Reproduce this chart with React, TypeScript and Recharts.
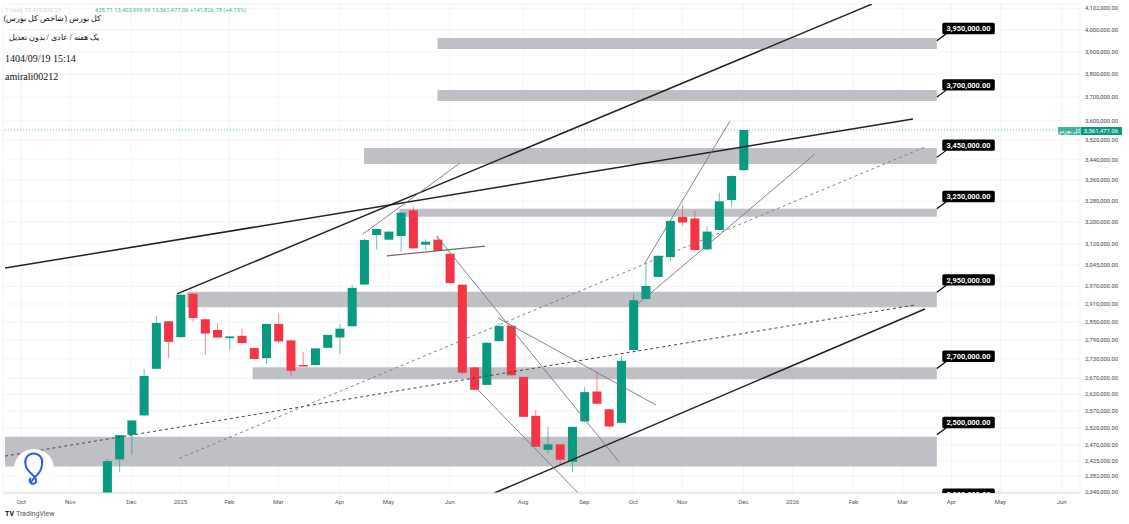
import React from "react";
import {
  ComposedChart,
  Bar,
  XAxis,
  YAxis,
  CartesianGrid,
  ReferenceArea,
  ReferenceLine,
  ReferenceDot,
} from "recharts";

const firstWeek = 8;

const opens = [
  2290600, 2429500, 2499700, 2556800, 2699000, 2852000, 2800000, 2944900, 2858800, 2823500,
  2796700, 2804300, 2764700, 2732700, 2843300, 2789500, 2711000, 2711000, 2765700, 2798900,
  2835800, 2976400, 3152700, 3135600, 3149000, 3244200, 3117300, 3135600, 3084800, 2975800,
  2703400, 2649000, 2787000, 2837200, 2673700, 2555500, 2456800, 2472300, 2422800, 2539000,
  2628700, 2574800, 2535000, 2758300, 2927000, 3002900, 3072800, 3219900, 3213900, 3100500,
  3171300, 3283400, 3399200,
];
const highs = [
  2430400, 2499500, 2542500, 2698000, 2870000, 2853000, 2944000, 2947000, 2860000, 2845400,
  2803000, 2827800, 2766000, 2845000, 2876100, 2791000, 2752000, 2765000, 2808000, 2843400,
  2974300, 3140700, 3176000, 3166000, 3238000, 3257900, 3137000, 3150600, 3086000, 2977000,
  2705000, 2783000, 2846600, 2839000, 2675000, 2572700, 2521800, 2473000, 2524000, 2642000,
  2690500, 2576000, 2739000, 2946200, 3047600, 3079000, 3207000, 3264400, 3242700, 3183600,
  3311500, 3378000, 3561477,
];
const lows = [
  2280000, 2394000, 2441800, 2556000, 2698000, 2733100, 2799000, 2851000, 2742300, 2798000,
  2758300, 2780000, 2729000, 2714300, 2779600, 2676800, 2707000, 2710000, 2765000, 2745800,
  2835000, 2975000, 3100500, 3134000, 3092000, 3103000, 3098000, 3094000, 2980000, 2680000,
  2633000, 2648000, 2786000, 2678000, 2552000, 2465000, 2446600, 2413600, 2394000, 2538000,
  2591000, 2523000, 2534000, 2757000, 2926000, 3001000, 3058400, 3186000, 3089500, 3099000,
  3170000, 3257900, 3398000,
];
const closes = [
  2424700, 2498800, 2541800, 2676800, 2846600, 2784900, 2941500, 2863200, 2811700, 2798900,
  2802300, 2780700, 2730000, 2843300, 2786200, 2692600, 2707900, 2763700, 2807300, 2827800,
  2964900, 3134500, 3174700, 3165000, 3235100, 3104000, 3128000, 3095500, 2981600, 2686800,
  2634000, 2781700, 2836200, 2678800, 2552500, 2465500, 2472300, 2428400, 2523000, 2626800,
  2591600, 2524000, 2724000, 2922500, 2971500, 3077500, 3204700, 3198700, 3098000, 3165000,
  3278500, 3376300, 3561477,
];

const priceTicks = [
  4102000, 4000000, 3900000, 3800000, 3700000, 3600000, 3520000, 3440000, 3360000, 3280000,
  3200000, 3120000, 3045000, 2970000, 2910000, 2850000, 2790000, 2730000, 2670000, 2620000,
  2570000, 2520000, 2470000, 2425000, 2382000, 2340000,
];
const monthWeeks = [1, 5, 10, 14, 18, 22, 27, 31, 36, 42, 47, 51, 55, 60, 64, 69, 73, 77, 81, 86];
const monthNames = [
  "Oct", "Nov", "Dec", "2025", "Feb", "Mar", "Apr", "May", "Jun", "Aug",
  "Sep", "Oct", "Nov", "Dec", "2026", "Feb", "Mar", "Apr", "May", "Jun",
];

// supply / demand zones
const zoneTops = [3963000, 3730700, 3487500, 3250300, 2951900, 2703700, 2493900];
const zoneBottoms = [3912600, 3683400, 3423700, 3220500, 2898900, 2666500, 2409500];
const zoneStarts = [35, 35, 29, 31.9, 14.5, 19.9, -0.33];
const zoneEnd = 75.8;
const zoneLevels = [3950000, 3700000, 3450000, 3250000, 2950000, 2700000, 2500000, 2300000];

// trend lines as [week, price, week, price]
const heavyLines = [
  [-0.33, 3033900, 73.85, 3607100],
  [13.72, 2944200, 70.5, 4122000],
  [39.66, 2336500, 74.83, 2893200],
];
const thinLines = [
  [28.89, 3155300, 36.84, 3427600],
  [34.93, 3149000, 49.83, 2422800],
  [39.94, 2863200, 52.85, 2587800],
  [38.33, 2633000, 46.48, 2337000],
  [51.9, 3047600, 58.9, 3598900],
  [51.27, 2906600, 65.84, 3463600],
];
const flatLine = [30.87, 3077500, 38.88, 3112500];
const darkDashLine = [-0.33, 2438900, 74.01, 2906700];
const greyDashLine = [13.9, 2432400, 74.83, 3491600];

const lastPrice = 3561477.06;
const yDomain = [2336500, 4122600];
const xDomain = [-0.5, 87.5];

const candles = opens.map((open, i) => ({
  week: firstWeek + i,
  open,
  high: highs[i],
  low: lows[i],
  close: closes[i],
}));

const fmt = (v: number) =>
  v.toLocaleString("en-US", { minimumFractionDigits: 2, maximumFractionDigits: 2 });

const UP = "#089981";
const DOWN = "#F23645";
const PLOT_BOTTOM = 493;

// the bar spans low..high, the body is placed inside it on the same log scale
const Candle = (props: any) => {
  const { x, y, width, height, payload } = props;
  const { open, high, low, close } = payload;
  const span = Math.log(high) - Math.log(low);
  const at = (p: number) => y + (height * (Math.log(high) - Math.log(p))) / span;
  const up = close >= open;
  const color = up ? UP : DOWN;
  const top = at(Math.max(open, close));
  const bottom = at(Math.min(open, close));
  const mid = x + width / 2;
  return (
    <g clipPath="url(#plot-clip)">
      <line x1={mid} x2={mid} y1={y} y2={y + height} stroke={color} strokeOpacity={0.6} strokeWidth={1} />
      <rect x={x} y={top} width={width} height={Math.max(bottom - top, 1.5)} fill={color} />
    </g>
  );
};

const Callout = (props: any) => {
  const { cx, cy, text } = props;
  return (
    <g clipPath="url(#plot-clip)">
      <line x1={cx} y1={cy} x2={cx + 9.5} y2={cy - 7} stroke="#000" strokeWidth={1.2} />
      <rect x={cx + 5.5} y={cy - 18} width={52.5} height={11.4} rx={1.5} fill="#000" />
      <text
        x={cx + 31.7}
        y={cy - 9.6}
        fill="#fff"
        fontSize={7.4}
        fontWeight={700}
        fontFamily="Roboto, sans-serif"
        textAnchor="middle"
      >
        {text}
      </text>
    </g>
  );
};

const PriceTag = (props: any) => {
  const { cx, cy } = props;
  return (
    <g fontFamily="Roboto, sans-serif" fontSize={6}>
      <rect x={cx - 22} y={cy - 3} width={22} height={8} fill={UP} fillOpacity={0.75} />
      <text x={cx - 11} y={cy + 3.2} fill="#fff" textAnchor="middle">
        کل بورس
      </text>
      <rect x={cx + 0.5} y={cy - 3} width={41.5} height={8} fill={UP} />
      <text x={cx + 21} y={cy + 3.2} fill="#fff" textAnchor="middle">
        {fmt(lastPrice)}
      </text>
    </g>
  );
};

const segment = (l: number[]) => [
  { x: l[0], y: l[1] },
  { x: l[2], y: l[3] },
] as any;

const headerStyle: React.CSSProperties = {
  position: "absolute",
  left: 5,
  fontFamily: "'Liberation Serif', serif",
  fontSize: 10,
  color: "#111",
  whiteSpace: "nowrap",
  lineHeight: "12px",
};

export default function App() {
  return (
    <div style={{ position: "absolute", left: 0, top: 0, width: 1129, height: 524, background: "#fff", overflow: "hidden" }}>
      <ComposedChart
        width={1129}
        height={524}
        data={candles}
        margin={{ top: 4, right: 5, bottom: 0, left: 3 }}
      >
        <defs>
          <clipPath id="plot-clip">
            <rect x={0} y={0} width={1129} height={PLOT_BOTTOM} />
          </clipPath>
        </defs>
        <CartesianGrid stroke="#f3f4f6" strokeWidth={1} />
        <XAxis
          dataKey="week"
          type="number"
          domain={xDomain}
          allowDataOverflow
          ticks={monthWeeks}
          interval={0}
          height={31}
          tickSize={0}
          tickMargin={7}
          axisLine={{ stroke: "#dcdde0" }}
          tick={{ fontSize: 6, fill: "#555", fontFamily: "Roboto, sans-serif" }}
          tickFormatter={(v: number) => monthNames[monthWeeks.indexOf(v)]}
        />
        <YAxis
          orientation="right"
          scale="log"
          domain={yDomain}
          allowDataOverflow
          ticks={priceTicks}
          interval={0}
          width={44}
          tickSize={0}
          tickMargin={5}
          axisLine={false}
          tick={{ fontSize: 5.8, fill: "#444", fontFamily: "Roboto, sans-serif", textAnchor: "start" }}
          tickFormatter={fmt}
        />

        {zoneTops.map((top, i) => (
          <ReferenceArea
            key={top}
            x1={zoneStarts[i]}
            x2={zoneEnd}
            y1={zoneBottoms[i]}
            y2={top}
            fill="#bfc0c6"
            fillOpacity={1}
            stroke="none"
            ifOverflow="hidden"
          />
        ))}

        <ReferenceLine y={lastPrice} stroke={UP} strokeOpacity={0.6} strokeDasharray="1 2" />

        <Bar
          dataKey={(d: any) => [d.low, d.high]}
          barSize={9}
          shape={Candle}
          isAnimationActive={false}
        />

        {heavyLines.map((l) => (
          <ReferenceLine key={l[0]} segment={segment(l)} stroke="#222" strokeWidth={1.5} ifOverflow="hidden" />
        ))}
        {thinLines.map((l) => (
          <ReferenceLine key={l[0]} segment={segment(l)} stroke="#777" strokeWidth={0.9} ifOverflow="hidden" />
        ))}
        <ReferenceLine segment={segment(flatLine)} stroke="#666" strokeWidth={1.2} ifOverflow="hidden" />
        <ReferenceLine segment={segment(darkDashLine)} stroke="#444" strokeWidth={1} strokeDasharray="3 3" ifOverflow="hidden" />
        <ReferenceLine segment={segment(greyDashLine)} stroke="#777" strokeWidth={0.9} strokeDasharray="3 3" ifOverflow="hidden" />

        {zoneLevels.map((level) => (
          <ReferenceDot
            key={level}
            x={zoneEnd}
            y={level}
            ifOverflow="hidden"
            shape={(p: any) => <Callout {...p} text={fmt(level)} />}
          />
        ))}
        <ReferenceDot x={xDomain[1]} y={lastPrice} ifOverflow="visible" shape={PriceTag} />
      </ComposedChart>

      <div style={{ position: "absolute", left: 5, top: 7, fontFamily: "Roboto, sans-serif", fontSize: 5.8, color: UP, whiteSpace: "nowrap", opacity: 0.75 }}>
        <span style={{ color: "#ccd", marginRight: 34 }}>1 week  13,419,650.28</span>
        438.71  13,403,999.99  13,561,477.06  +141,826.78 (+4.15%)
      </div>
      <div dir="rtl" style={{ ...headerStyle, fontSize: 8, top: 13, left: 5, width: 96 }}>کل بورس (شاخص کل بورس)</div>
      <div dir="rtl" style={{ ...headerStyle, fontSize: 8, top: 32, left: 5, width: 94 }}>یک هفته / عادی / بدون تعدیل</div>
      <div style={{ ...headerStyle, top: 53 }}>1404/09/19 15:14</div>
      <div style={{ ...headerStyle, top: 71 }}>amirali00212</div>

      <svg width={44} height={44} style={{ position: "absolute", left: 12, top: 447 }}>
        <circle cx={22} cy={22} r={20} fill="#fff" />
        <path
          d="M19 35 C24 28 30 25 30 17 A8.5 8.5 0 1 0 13.500 17 C13.500 25 24 28 24 33 A3.200 3.200 0 1 1 19 31"
          fill="none"
          stroke="#2f5fe0"
          strokeWidth={2}
        />
      </svg>

      <div style={{ position: "absolute", left: 5, top: 510, fontFamily: "Roboto, sans-serif", fontSize: 7, color: "#555", whiteSpace: "nowrap" }}>
        <b style={{ color: "#111", marginRight: 2 }}>TV</b>TradingView
      </div>
    </div>
  );
}
